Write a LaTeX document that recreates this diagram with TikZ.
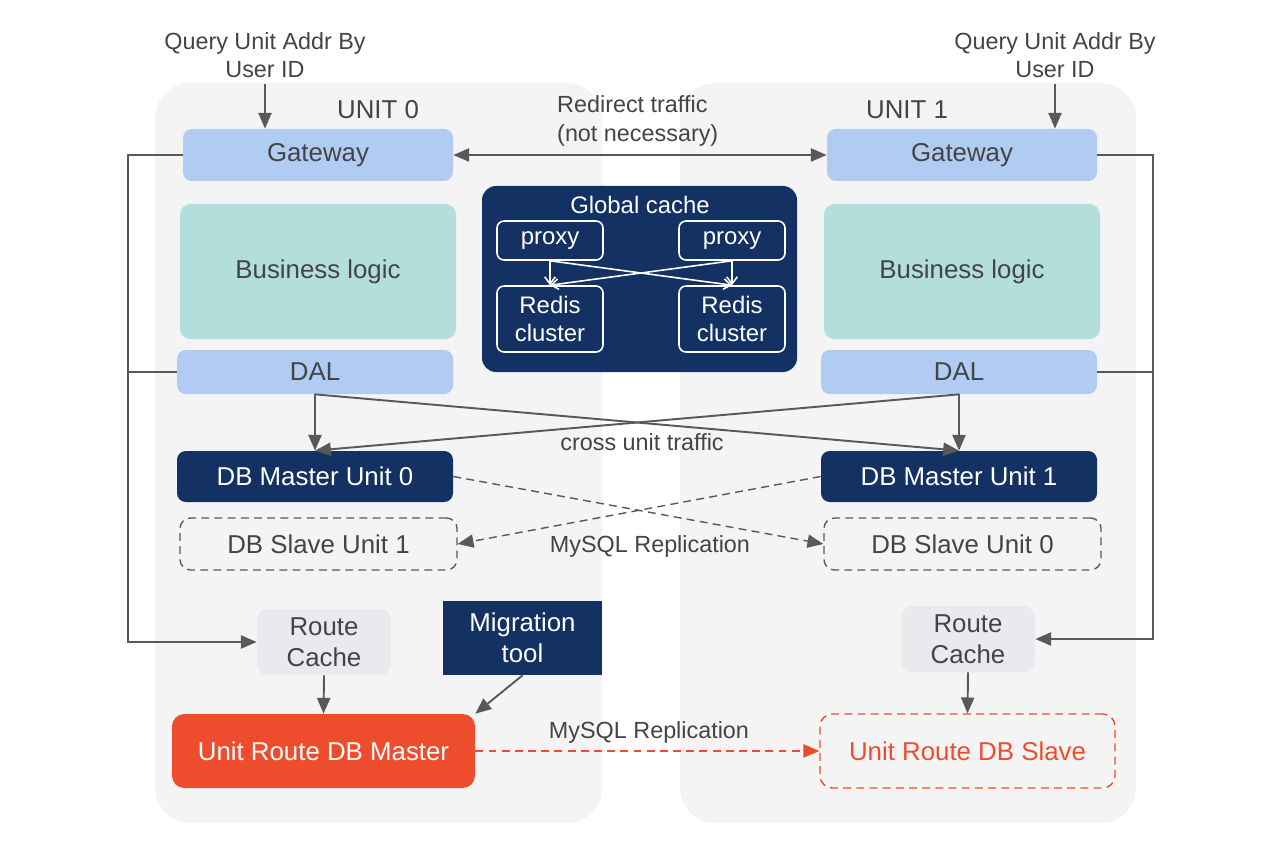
\documentclass[tikz,border=0pt]{standalone}
\usepackage{fontspec}
\setmainfont{Liberation Sans}
\usepackage{xcolor}
\usetikzlibrary{positioning,calc,arrows.meta}
\definecolor{unitBg}{RGB}{244,244,244}
\definecolor{gwBlue}{RGB}{176,204,242}
\definecolor{logicTeal}{RGB}{178,223,219}
\definecolor{dbNavy}{RGB}{19,49,99}
\definecolor{cacheGray}{RGB}{232,234,237}
\definecolor{routeRed}{RGB}{238,77,45}
\definecolor{txtGray}{RGB}{68,68,68}
\definecolor{lineGray}{RGB}{89,89,89}
\newcommand{\boxfont}{\fontsize{14.7}{17.6}\selectfont}
\newcommand{\notefont}{\fontsize{13.3}{16}\selectfont}
\newcommand{\gcfont}{\fontsize{13.6}{15.9}\selectfont}

\begin{document}
\begin{tikzpicture}[
  x=0.2mm,y=-0.2mm,
  panel/.style={fill=unitBg,rounded corners=20pt},
  gwbox/.style={rectangle,fill=gwBlue,rounded corners=5pt,minimum width=5.4cm,minimum height=1.04cm,font=\boxfont,text=txtGray},
  logic/.style={rectangle,fill=logicTeal,rounded corners=6pt,minimum width=5.52cm,minimum height=2.7cm,font=\boxfont,text=txtGray},
  dal/.style={rectangle,fill=gwBlue,rounded corners=5pt,minimum width=5.52cm,minimum height=0.88cm,font=\boxfont,text=txtGray},
  master/.style={rectangle,fill=dbNavy,rounded corners=5pt,minimum width=5.52cm,minimum height=1.02cm,font=\boxfont,text=white},
  slave/.style={rectangle,draw=lineGray,line width=0.8pt,dash pattern=on 4.5pt off 3pt,rounded corners=6pt,minimum width=5.54cm,minimum height=1.04cm,font=\boxfont,text=txtGray},
  rcache/.style={rectangle,fill=cacheGray,rounded corners=6pt,minimum width=2.68cm,minimum height=1.32cm,align=center,font=\boxfont,text=txtGray},
  gcbox/.style={rectangle,fill=dbNavy,rounded corners=8pt,minimum width=6.3cm,minimum height=3.72cm},
  gcpart/.style={rectangle,draw=white,line width=0.9pt,rounded corners=4pt,minimum width=2.12cm,align=center,font=\gcfont,text=white},
  lbl/.style={font=\notefont,text=txtGray,align=center},
  arrow/.style={-{Triangle[length=9pt,width=7.5pt]},line width=1.1pt,lineGray},
  biarrow/.style={{Triangle[length=9pt,width=7.5pt]}-{Triangle[length=9pt,width=7.5pt]},line width=1.1pt,lineGray},
  line/.style={line width=1.1pt,lineGray},
  dasharrow/.style={arrow,line width=0.8pt,dash pattern=on 4.5pt off 3pt},
  gcarrow/.style={-{Straight Barb[length=4pt,width=6pt]},line width=0.9pt,white}
]
  \useasboundingbox (0,0) rectangle (1288,863);

  % unit panels
  \fill[panel] (155,83) rectangle (602,823);
  \fill[panel] (680,83) rectangle (1136,823);
  \node[font=\boxfont,text=txtGray] (u0) at (378,110) {UNIT 0};
  \node[font=\boxfont,text=txtGray] (u1) at (907,110) {UNIT 1};

  % unit 0
  \node[gwbox] (gw0) at (318,155) {Gateway};
  \node[logic] (bl0) at (318,271.5) {Business logic};
  \node[dal] (dal0) at (315,372) {DAL};
  \node[master] (dbm0) at (315,476.5) {DB Master Unit 0};
  \node[slave] (dbs1) at (318.5,544) {DB Slave Unit 1};
  \node[rcache] (rc0) at (324,642) {Route\\Cache};
  \node[rectangle,fill=dbNavy,minimum width=3.18cm,minimum height=1.48cm,align=center,font=\boxfont,text=white] (mig) at (522.5,638) {Migration\\tool};
  \node[rectangle,fill=routeRed,rounded corners=7pt,minimum width=6.06cm,minimum height=1.48cm,font=\boxfont,text=white] (urm) at (323.5,751) {Unit Route DB Master};

  % unit 1
  \node[gwbox] (gw1) at (962,155) {Gateway};
  \node[logic] (bl1) at (962,271.5) {Business logic};
  \node[dal] (dal1) at (959,372) {DAL};
  \node[master] (dbm1) at (959,476.5) {DB Master Unit 1};
  \node[slave] (dbs0) at (962.5,544) {DB Slave Unit 0};
  \node[rcache] (rc1) at (968,639) {Route\\Cache};
  \node[rectangle,draw=routeRed,line width=0.8pt,dash pattern=on 4.5pt off 3pt,rounded corners=7pt,minimum width=5.9cm,minimum height=1.48cm,font=\boxfont,text=routeRed] (urs) at (967.5,751) {Unit Route DB Slave};

  % global cache
  \node[gcbox] (gc) at (639.5,279) {};
  \node[font=\gcfont,text=white] (gctitle) at (640,205) {Global cache};
  \node[gcpart,minimum height=0.78cm] (pxL) at (550,240.5) {proxy};
  \node[gcpart,minimum height=0.78cm] (pxR) at (732,240.5) {proxy};
  \node[gcpart,minimum height=1.32cm] (rdL) at (550,319) {Redis\\cluster};
  \node[gcpart,minimum height=1.32cm] (rdR) at (732,319) {Redis\\cluster};
  \draw[gcarrow] (pxL.south) -- (rdL.north);
  \draw[gcarrow] (pxR.south) -- (rdR.north);
  \draw[gcarrow] (pxL.south) -- (rdR.north);
  \draw[gcarrow] (pxR.south) -- (rdL.north);

  % entry points
  \node[lbl] (q0) at (265,55) {Query Unit Addr By\\User ID};
  \node[lbl] (q1) at (1055,55) {Query Unit Addr By\\User ID};
  \draw[arrow] (q0.south) -- (q0.south |- gw0.north);
  \draw[arrow] (q1.south) -- (q1.south |- gw1.north);
  \draw[biarrow] (gw0.east) -- (gw1.west);
  \node[lbl,anchor=west,align=left] (redir) at (551,121) {Redirect traffic\\(not necessary)};

  % route cache lookups
  \coordinate (busL) at (128,0);
  \coordinate (busR) at (1153,0);
  \draw[arrow] (gw0.west) -- (gw0.west -| busL) |- (rc0.west);
  \draw[line] (dal0.west) -- (dal0.west -| busL);
  \draw[arrow] (gw1.east) -- (gw1.east -| busR) |- (rc1.east);
  \draw[line] (dal1.east) -- (dal1.east -| busR);

  % data access
  \draw[arrow] (dal0.south) -- (dbm0.north);
  \draw[arrow] (dal0.south) -- (dbm1.north);
  \draw[arrow] (dal1.south) -- (dbm1.north);
  \draw[arrow] (dal1.south) -- (dbm0.north);
  \node[lbl] (cross) at (642,442) {cross unit traffic};

  \draw[dasharrow] (dbm0.east) -- (dbs0.west);
  \draw[dasharrow] (dbm1.west) -- (dbs1.east);
  \node[lbl] (repl) at (650,546) {MySQL Replication};

  \draw[arrow] (rc0.south) -- (urm.north);
  \draw[arrow] (mig.south) -- (urm.north east);
  \draw[arrow] (rc1.south) -- (urs.north);
  \draw[dasharrow,routeRed] (urm.east) -- (urs.west);
  \node[lbl] (repl2) at (649,732) {MySQL Replication};
\end{tikzpicture}
\end{document}
